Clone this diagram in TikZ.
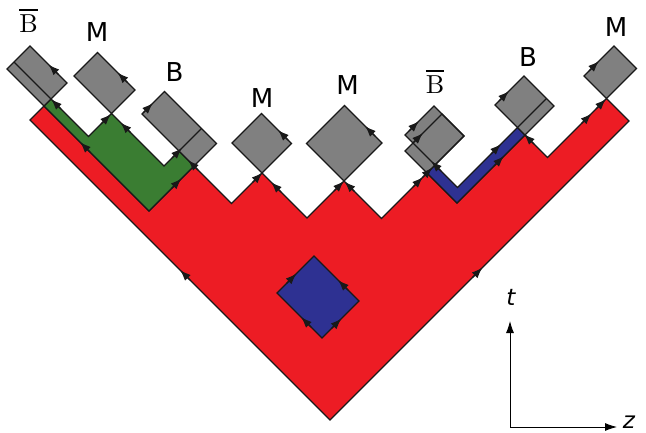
\documentclass[tikz,border=0pt]{standalone}
\usepackage{fontspec}
\setsansfont{DejaVu Sans}
\newfontfamily\lmzehn{lmroman10-regular.otf}
\usetikzlibrary{arrows.meta}

\definecolor{stringred}{RGB}{237, 28, 36}
\definecolor{popgreen}{RGB}{58, 125, 50}
\definecolor{popblue}{RGB}{46, 49, 146}
\definecolor{hadrongray}{RGB}{128, 128, 128}

% Antiteilchen-Strich ueber dem Buchstaben
\newcommand{\antiB}{\setbox0\hbox{B}\rlap{\rule[\dimexpr\ht0+4.5pt\relax]{\wd0}{1.4pt}}B}

\tikzset{
	kante/.style={draw=black!90, line width=1.2pt},
	pfeil/.style={draw=black!90, line width=1.2pt, -{Latex[length=11pt, width=8pt]}},
	teilchen/.style={font=\sffamily\fontsize{26}{30}\selectfont, inner sep=0pt, anchor=base},
	antiteilchen/.style={font=\lmzehn\fontsize{26}{30}\selectfont, inner sep=0pt, anchor=base},
	achse/.style={draw=black, line width=0.9pt, -{Latex[length=12pt, width=8pt]}},
	achsenlabel/.style={font=\sffamily\itshape\fontsize{23}{26}\selectfont, inner sep=0pt}
}

\begin{document}
\begin{tikzpicture}[x=1pt, y=1pt] % 1 Einheit = 1 Pixel des Originals, y nach unten negativ
		
		\useasboundingbox (0,0) rectangle (646,-433);
		
		% Lichtkegel-Koordinaten (a,b): a nach rechts unten, b nach rechts oben
		\begin{scope}[rotate=-45, x=0.7071pt, y=0.7071pt]
			
			% Stringflaeche (rot)
			\draw[kante, fill=stringred] (750,-90) -- (150,-90) -- (150,-62) -- (360,-62) -- (360,28)
				-- (435,28) -- (435,89) -- (525,89) -- (525,163) -- (600,163) -- (600,254)
				-- (660,254) -- (660,390) -- (705,390) -- (705,508) -- (750,508) -- cycle;
			
			% Diquark-Streifen links (gruen)
			\draw[kante, fill=popgreen] (150,-62) -- (150,-48) -- (225,-48) -- (225,-2)
				-- (330,-2) -- (330,28) -- (360,28) -- (360,-62) -- cycle;
			
			% Diquark-Streifen rechts (blau)
			\draw[kante, fill=popblue] (600,254) -- (600,270) -- (645,270) -- (645,390)
				-- (660,390) -- (660,254) -- cycle;
			
			% Blaue Raute in der Mitte
			\draw[kante, fill=popblue] (570,-16) rectangle (660,58);
			
			% Hadronen (graue Rechtecke)
			\foreach \a/\A/\b/\B in {76/150/-62/-16, 150/225/-2/45, 256/360/28/73, 375/435/89/148,
				450/525/163/239, 600/660/390/448, 660/705/508/568} {
				\draw[kante, fill=hadrongray] (\a,\b) rectangle (\A,\B);
			}
			
			% Antibaryon rechts: zwei ueberlappende Rechtecke
			\fill[hadrongray] (540,270) rectangle (600,328);
			\fill[hadrongray] (556,254) rectangle (600,328);
			\draw[kante] (540,270) rectangle (600,328);
			\draw[kante] (556,254) rectangle (600,328);
			
			% Innere Linien der Baryonen
			\draw[kante] (76,-48) -- (150,-48);
			\draw[kante] (330,28) -- (330,73);
			\draw[kante] (645,390) -- (645,448);
			
			% Pfeile nach rechts oben
			\foreach \a/\b in {750/215, 360/3, 225/-3, 256/50, 330/34, 435/90, 525/163, 540/298,
				556/290, 600/246, 600/265, 645/357, 660/348, 600/418, 660/538, 705/478,
				705/507, 570/23, 660/23} {
				\draw[pfeil] (\a,\b-20) -- (\a,\b);
			}
			
			% Pfeile nach links oben
			\foreach \a/\b in {450/-90, 222/-62, 243/-2, 150/-48, 113/-16, 190/45, 348/28,
				408/148, 453/89, 491/239, 526/163, 592/270, 658/390, 618/58, 618/-16} {
				\draw[pfeil] (\a+20,\b) -- (\a,\b);
			}
			
		\end{scope}
		
		% Beschriftung der Hadronen
		\node[antiteilchen] (bbarL) at (28.5,-33) {\antiB};
		\node[teilchen] (mL) at (97,-42) {M};
		\node[teilchen] (bL) at (174.5,-82) {B};
		\node[teilchen] (mZwei) at (262,-108) {M};
		\node[teilchen] (mDrei) at (347.5,-95) {M};
		\node[antiteilchen] (bbarR) at (435,-94) {\antiB};
		\node[teilchen] (bR) at (528,-67) {B};
		\node[teilchen] (mR) at (616,-37) {M};
		
		% Achsen t und z
		\coordinate (ursprung) at (510,-427);
		\coordinate (tEnde) at (510,-321);
		\coordinate (zEnde) at (617,-427);
		\draw[achse] (ursprung) -- (tEnde);
		\draw[achse] (ursprung) -- (zEnde);
		\node[achsenlabel] (tLabel) at (511,-297) {t};
		\node[achsenlabel] (zLabel) at (629,-422) {z};
		
	\end{tikzpicture}
\end{document}
